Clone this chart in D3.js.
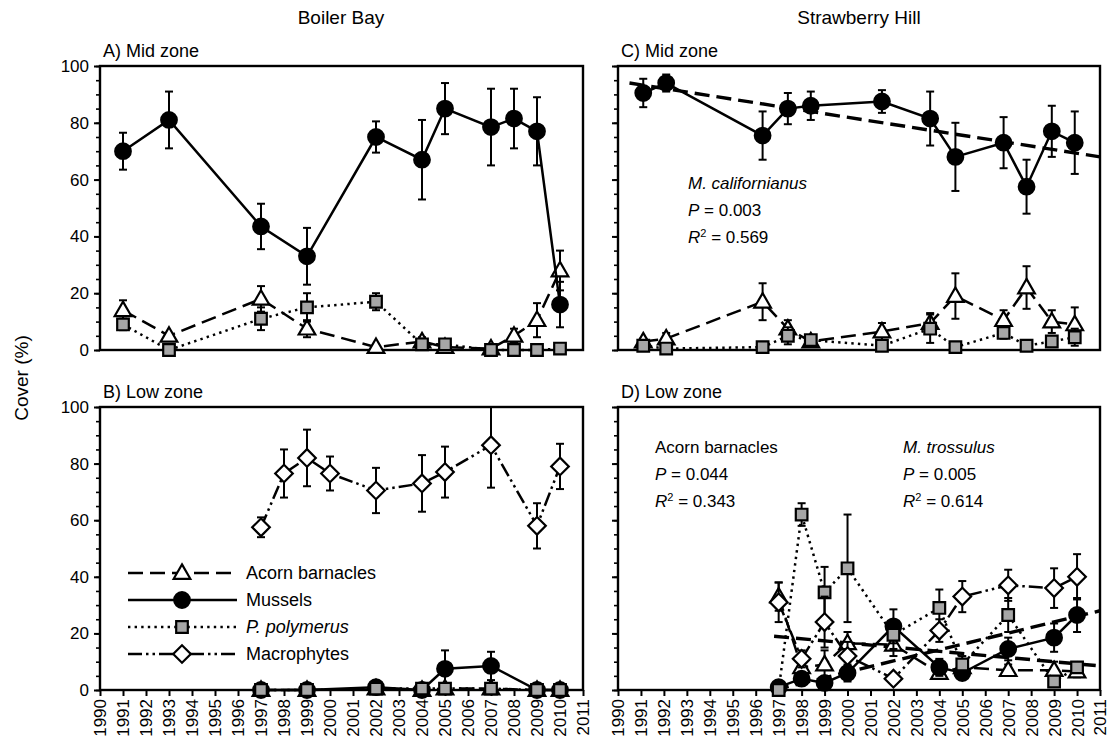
<!DOCTYPE html>
<html><head><meta charset="utf-8">
<script src="https://cdn.jsdelivr.net/npm/d3@7"></script>
<style>
body{margin:0;background:#fff}
text{font-family:"Liberation Sans",Arial,Helvetica,sans-serif;fill:#000}
</style></head><body>
<svg id="chart" width="1111" height="748"></svg>
<script>
// ---- tick values ----
const yearTicks = d3.range(1990, 2012);
const coverTicks = [0, 20, 40, 60, 80, 100];
const minorTicks = d3.range(0, 101, 5);

// ---- A) Boiler Bay, mid zone ----
const aYears = [1991, 1993, 1997, 1999, 2002, 2004, 2005, 2007, 2008, 2009, 2010];
const aBarnacles = [14, 5, 18, 7.5, 1, 3, 1, 0.5, 5, 10.5, 28];
const aBarnaclesErr = [3.5, 1, 4.5, 3, 1, 1.5, 0.5, 0.5, 2.5, 6, 7];
const aMussels = [70, 81, 43.5, 33, 75, 67, 85, 78.5, 81.5, 77, 16];
const aMusselsErr = [6.5, 10, 8, 10, 5.5, 14, 9, 13.5, 10.5, 12, 8];
const aPolymerus = [9, 0, 11, 15, 17, 2, 2, 0, 0, 0, 0.5];
const aPolymerusErr = [2, 0, 4, 5, 3, 2, 1, 0, 0, 0, 0];

// ---- B) Boiler Bay, low zone ----
const bYears = [1997, 1999, 2002, 2004, 2005, 2007, 2009, 2010];
const bBarnacles = [0, 0, 0.5, 0, 0.5, 0.5, 0, 0];
const bMussels = [0, 0, 1, 0, 7.5, 8.5, 0, 0];
const bMusselsErr = [0, 0, 1, 0, 6.5, 5, 0, 0];
const bPolymerus = [0, 0, 0.5, 0.5, 0.5, 0.5, 0, 0];
const bMacroYears = [1997, 1998, 1999, 2000, 2002, 2004, 2005, 2007, 2009, 2010];
const bMacrophytes = [57.5, 76.5, 82, 76.5, 70.5, 73, 77, 86.5, 58, 79];
const bMacrophytesErr = [3.5, 8.5, 10, 6, 8, 10, 9, 15, 8, 8];

// ---- C) Strawberry Hill, mid zone ----
const cYears = [1991.1, 1992.1, 1996.3, 1997.4, 1998.4, 2001.5, 2003.6, 2004.7, 2006.8, 2007.8, 2008.9, 2009.9];
const cBarnacles = [3, 4, 17, 7.5, 3, 6.5, 9.5, 19, 10.5, 22, 10, 9];
const cBarnaclesErr = [1, 2, 6.5, 3, 1, 3, 3.5, 8, 3.5, 7.5, 4, 6];
const cMussels = [90.5, 94, 75.5, 85, 86, 87.5, 81.5, 68, 73, 57.5, 77, 73];
const cMusselsErr = [5, 3, 8.5, 5.5, 5, 4, 9.5, 12, 9, 9.5, 9, 11];
const cPolymerus = [1.5, 0.5, 1, 5, 3.5, 1.5, 7.5, 1, 6, 1.5, 3, 4.5];
const cPolymerusErr = [0.5, 0.5, 0.5, 3, 1, 1, 5, 0.5, 2, 1, 1.5, 3];
const cTrendYears = [1990.5, 2011];
const cTrendMussels = [94, 68];

// ---- D) Strawberry Hill, low zone ----
const dYears = [1997, 1998, 1999, 2000, 2002, 2004, 2005, 2007, 2009, 2010];
const dBarnacles = [33, 8, 9, 16.5, 16, 6, 8, 7, 7, 6.5];
const dBarnaclesErr = [5, 3, 5, 4, 4, 2, 3, 2, 3, 2];
const dMussels = [1, 4, 2.5, 6, 22.5, 8, 6, 14.5, 18.5, 26.5];
const dMusselsErr = [1, 1, 1, 3, 6, 3, 2, 4, 5, 6];
const dPolymerus = [0, 62, 34.5, 43, 19.5, 29, 9, 26.5, 3, 8];
const dPolymerusErr = [0, 4, 9, 19, 5, 6.5, 3, 6, 1, 1.5];
const dMacrophytes = [31, 11, 24, 12, 4, 21, 33, 37, 36, 40];
const dMacrophytesErr = [7, 3, 9, 5, 1, 4, 5.5, 5.5, 7, 8];
const dTrendYears = [1996.8, 2011];
const dTrendBarnacles = [19, 8.5];
const dTrendMussels = [0, 28];

// ---- series styling ----
const styles = {
  barnacles:   {dash: "15,7", shape: "triangle", fill: "#fff"},
  mussels:     {dash: null, shape: "circle", fill: "#000"},
  polymerus:   {dash: "2.4,4.2", shape: "square", fill: "#a6a6a6"},
  macrophytes: {dash: "14,4,2.5,4,2.5,4", shape: "diamond", fill: "#fff"}
};

function series(kind, years, values, errors) {
  return {kind, pts: years.map((yr, i) => ({yr, v: values[i], e: errors ? errors[i] : 0}))};
}

const svg = d3.select("#chart");
svg.append("rect").attr("width", 1111).attr("height", 748).attr("fill", "#fff");

const xLeft = d3.scaleLinear([1990, 2011], [100, 583]);
const xRight = d3.scaleLinear([1990, 2011], [618, 1100]);
const yTop = d3.scaleLinear([0, 100], [350, 66]);
const yBottom = d3.scaleLinear([0, 100], [690, 407]);

function marker(g, shape, cx, cy, fill) {
  let sel;
  if (shape === "circle") {
    sel = g.append("circle").attr("cx", cx).attr("cy", cy).attr("r", 7.8);
  } else if (shape === "triangle") {
    sel = g.append("path").attr("transform", `translate(${cx},${cy + 1})`)
      .attr("d", d3.symbol(d3.symbolTriangle, 120)());
  } else if (shape === "square") {
    sel = g.append("path").attr("transform", `translate(${cx},${cy})`)
      .attr("d", d3.symbol(d3.symbolSquare, 135)());
  } else {
    sel = g.append("path").attr("transform", `translate(${cx},${cy}) rotate(45)`)
      .attr("d", d3.symbol(d3.symbolSquare, 155)());
  }
  sel.attr("fill", fill).attr("stroke", "#000").attr("stroke-width", 2.2);
}

function drawPanel(o) {
  const {x, y, list, trends, yLabels, xLabels, label} = o;
  const g = svg.append("g");
  const [x0, x1] = x.range();
  const [y0, y1] = y.range();

  // y axis ticks (major + minor)
  const ax = g.append("g").attr("transform", `translate(${x0},0)`)
    .call(d3.axisLeft(y).tickValues(coverTicks).tickSize(6).tickSizeOuter(0).tickPadding(5)
      .tickFormat(yLabels ? d3.format("d") : () => ""));
  ax.select(".domain").remove();
  ax.selectAll("line").attr("stroke-width", 2);
  ax.selectAll("text").style("font-size", "17px").attr("fill", "#000");
  const mn = g.append("g").attr("transform", `translate(${x0},0)`)
    .call(d3.axisLeft(y).tickValues(minorTicks).tickSize(4).tickSizeOuter(0).tickFormat(() => ""));
  mn.select(".domain").remove();
  mn.selectAll("line").attr("stroke-width", 1.6);

  if (xLabels) {
    const bx = g.append("g").attr("transform", `translate(0,${y0})`)
      .call(d3.axisBottom(x).tickValues(yearTicks).tickSize(6).tickSizeOuter(0).tickFormat(d3.format("d")));
    bx.select(".domain").remove();
    bx.selectAll("line").attr("stroke-width", 2);
    bx.selectAll("text").attr("transform", "rotate(-90)").attr("text-anchor", "end")
      .attr("x", -9).attr("y", 0).attr("dy", "0.35em").style("font-size", "17px").attr("fill", "#000");
  }

  // frame
  g.append("rect").attr("x", x0).attr("y", y1).attr("width", x1 - x0).attr("height", y0 - y1)
    .attr("fill", "none").attr("stroke", "#000").attr("stroke-width", 2.4);

  g.append("text").attr("x", x0 + 3).attr("y", y1 - 9).style("font-size", "18px").text(label);

  const plot = g.append("g");
  // regression lines
  (trends || []).forEach(t => {
    plot.append("path")
      .attr("d", d3.line().x(d => x(d[0])).y(d => y(d[1]))(t.years.map((yr, i) => [yr, t.values[i]])))
      .attr("fill", "none").attr("stroke", "#000").attr("stroke-width", 3.4)
      .attr("stroke-dasharray", "15,7");
  });

  list.forEach(s => {
    const st = styles[s.kind];
    const line = d3.line().x(d => x(d.yr)).y(d => y(d.v));
    const p = plot.append("path").attr("d", line(s.pts)).attr("fill", "none")
      .attr("stroke", "#000").attr("stroke-width", 2.5);
    if (st.dash) p.attr("stroke-dasharray", st.dash);
    s.pts.forEach(d => {
      if (d.e > 0) {
        const cx = x(d.yr), ya = y(Math.min(100, d.v + d.e)), yb = y(Math.max(0, d.v - d.e));
        plot.append("line").attr("x1", cx).attr("x2", cx).attr("y1", ya).attr("y2", yb)
          .attr("stroke", "#000").attr("stroke-width", 2);
        [ya, yb].forEach(yy => plot.append("line").attr("x1", cx - 4).attr("x2", cx + 4)
          .attr("y1", yy).attr("y2", yy).attr("stroke", "#000").attr("stroke-width", 2));
      }
    });
    s.pts.forEach(d => marker(plot, st.shape, x(d.yr), y(d.v), st.fill));
  });
  return g;
}

drawPanel({x: xLeft, y: yTop, yLabels: true, xLabels: false, label: "A) Mid zone",
  list: [series("barnacles", aYears, aBarnacles, aBarnaclesErr),
         series("mussels", aYears, aMussels, aMusselsErr),
         series("polymerus", aYears, aPolymerus, aPolymerusErr)]});

drawPanel({x: xLeft, y: yBottom, yLabels: true, xLabels: true, label: "B) Low zone",
  list: [series("barnacles", bYears, bBarnacles),
         series("mussels", bYears, bMussels, bMusselsErr),
         series("polymerus", bYears, bPolymerus),
         series("macrophytes", bMacroYears, bMacrophytes, bMacrophytesErr)]});

drawPanel({x: xRight, y: yTop, yLabels: false, xLabels: false, label: "C) Mid zone",
  trends: [{years: cTrendYears, values: cTrendMussels}],
  list: [series("barnacles", cYears, cBarnacles, cBarnaclesErr),
         series("mussels", cYears, cMussels, cMusselsErr),
         series("polymerus", cYears, cPolymerus, cPolymerusErr)]});

drawPanel({x: xRight, y: yBottom, yLabels: false, xLabels: true, label: "D) Low zone",
  trends: [{years: dTrendYears, values: dTrendBarnacles}, {years: dTrendYears, values: dTrendMussels}],
  list: [series("barnacles", dYears, dBarnacles, dBarnaclesErr),
         series("mussels", dYears, dMussels, dMusselsErr),
         series("polymerus", dYears, dPolymerus, dPolymerusErr),
         series("macrophytes", dYears, dMacrophytes, dMacrophytesErr)]});

// column headers and shared y label
svg.append("text").attr("x", 341).attr("y", 24).attr("text-anchor", "middle").style("font-size", "19px").text("Boiler Bay");
svg.append("text").attr("x", 859).attr("y", 24).attr("text-anchor", "middle").style("font-size", "19px").text("Strawberry Hill");
svg.append("text").attr("transform", "translate(28,378) rotate(-90)").attr("text-anchor", "middle")
  .style("font-size", "19px").text("Cover (%)");

// regression statistics
function stats(x0, yBase, title, titleItalic, p, r2) {
  const t = svg.append("text").attr("x", x0).attr("y", yBase).style("font-size", "17px").text(title);
  if (titleItalic) t.style("font-style", "italic");
  const tp = svg.append("text").attr("x", x0).attr("y", yBase + 27).style("font-size", "17px");
  tp.append("tspan").style("font-style", "italic").text("P");
  tp.append("tspan").text(" = " + p);
  const tr = svg.append("text").attr("x", x0).attr("y", yBase + 54).style("font-size", "17px");
  tr.append("tspan").style("font-style", "italic").text("R");
  tr.append("tspan").attr("dy", -6).style("font-size", "11px").text("2");
  tr.append("tspan").attr("dy", 6).text(" = " + r2);
}
stats(688, 189, "M. californianus", true, "0.003", "0.569");
stats(655, 453, "Acorn barnacles", false, "0.044", "0.343");
stats(903, 453, "M. trossulus", true, "0.005", "0.614");

// legend
const legendItems = [
  {kind: "barnacles", text: "Acorn barnacles", italic: false},
  {kind: "mussels", text: "Mussels", italic: false},
  {kind: "polymerus", text: "P. polymerus", italic: true},
  {kind: "macrophytes", text: "Macrophytes", italic: false}
];
const lg = svg.append("g");
legendItems.forEach((it, i) => {
  const yy = 573 + i * 27;
  const st = styles[it.kind];
  const l = lg.append("line").attr("x1", 128).attr("x2", 237).attr("y1", yy).attr("y2", yy)
    .attr("stroke", "#000").attr("stroke-width", 2.5);
  if (st.dash) l.attr("stroke-dasharray", st.dash);
  marker(lg, st.shape, 182, yy, st.fill);
  const t = lg.append("text").attr("x", 246).attr("y", yy + 6).style("font-size", "18px").text(it.text);
  if (it.italic) t.style("font-style", "italic");
});
</script>
</body></html>
